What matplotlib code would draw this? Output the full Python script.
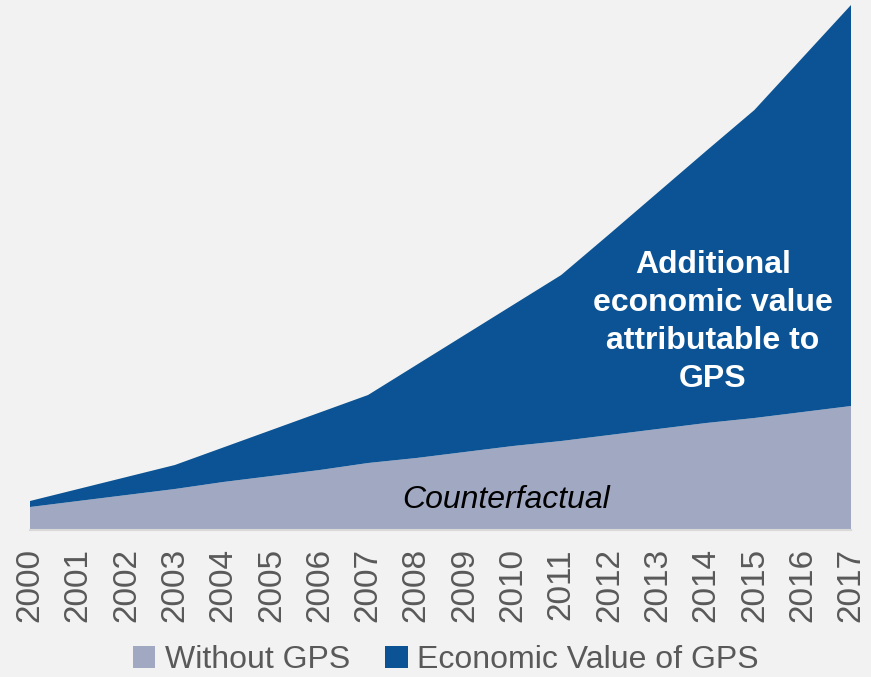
import matplotlib.pyplot as plt
from matplotlib.patches import Patch

plt.rcParams["font.family"] = ["Liberation Sans", "DejaVu Sans"]

# values (arbitrary units, no y axis shown)
years = list(range(2000, 2018))
without_gps = [23, 29, 35, 41, 48, 54, 60, 67, 72, 78, 84, 89, 95, 101, 107, 112, 118, 124]
gps_value = [6, 12, 18, 24, 34.5, 46, 57.5, 68, 93, 117, 141, 166, 201, 236.5, 272, 308, 354.5, 401]

BG = "#f2f2f2"
GRAY = "#a1a9c2"
BLUE = "#0b5394"

fig = plt.figure(figsize=(8.71, 6.77), dpi=100, facecolor=BG)
ax = fig.add_axes([30 / 871, 147 / 677, 821 / 871, 525 / 677])
ax.set_facecolor(BG)

ax.stackplot(years, without_gps, gps_value, colors=[GRAY, BLUE], linewidth=0)
ax.set_xlim(years[0], years[-1])
ax.set_ylim(0, 525)

for side in ["top", "right", "left"]:
    ax.spines[side].set_visible(False)
ax.spines["bottom"].set_color("#d9d9d9")
ax.spines["bottom"].set_linewidth(1.5)
ax.set_yticks([])
ax.set_xticks(years)
ax.set_xticklabels([str(y) for y in years], rotation=90, fontsize=24, color="#595959")
ax.tick_params(axis="x", length=0, pad=13)

ax.text(2014.14, 208, "Additional\neconomic value\nattributable to\nGPS", ha="center", va="center",
        color="white", fontsize=23, fontweight="bold", linespacing=1.34)
ax.text(2009.86, 30, "Counterfactual", ha="center", va="center", color="black",
        fontsize=23, style="italic")

handles = [Patch(facecolor=GRAY, label="Without GPS"), Patch(facecolor=BLUE, label="Economic Value of GPS")]
fig.legend(handles=handles, loc="center", bbox_to_anchor=(446 / 871, 1 - 660 / 677), ncol=2,
           frameon=False, fontsize=23, handlelength=0.7, handleheight=0.7, handletextpad=0.3,
           columnspacing=1.1, labelcolor="#595959", borderpad=0.1)

fig.savefig("out.png", dpi=100, facecolor=BG)
